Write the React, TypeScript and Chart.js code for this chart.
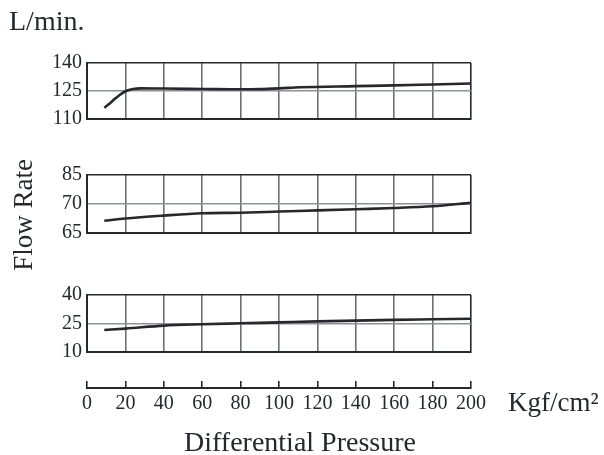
import React, { useEffect, useRef } from "react";
import { Chart, registerables } from "chart.js";

Chart.register(...registerables);

const FONT = "'Liberation Serif', 'Times New Roman', serif";
const INK = "#25282c";
const GRID_V = "#6e7174";
const GRID_H = "#8e9194";

// Differential pressure (Kgf/cm²)
const pressureTop = [9, 12, 15, 18, 21, 24, 28, 40, 60, 80, 90, 100, 111, 140, 160, 180, 200];
const flowTop = [116, 118.5, 121.2, 123.6, 125.3, 126.1, 126.4, 126.3, 126.1, 125.9, 126, 126.4, 127, 127.6, 128, 128.5, 129];

const pressureMid = [9, 20, 40, 60, 80, 100, 120, 140, 160, 180, 200];
const flowMid = [67.1, 67.5, 68, 68.4, 68.5, 68.7, 68.9, 69.1, 69.3, 69.6, 70.2];

const pressureBot = [9, 20, 40, 60, 80, 100, 120, 140, 160, 180, 200];
const flowBot = [21.6, 22.3, 23.9, 24.6, 25.1, 25.6, 26.1, 26.5, 26.9, 27.2, 27.5];

// tick labels (bottom to top)
const ticksTop = ["110", "125", "140"];
const ticksMid = ["65", "70", "85"];
const ticksBot = ["10", "25", "40"];
const xTickLabels = ["0", "20", "40", "60", "80", "100", "120", "140", "160", "180", "200"];

const W = 604;
const H = 455;
const LEFT = 87;
const RIGHT_PAD = 133;

type PanelDef = {
  xs: number[];
  ys: number[];
  min: number;
  max: number;
  step: number;
  labels: string[];
  top: number;
  bottom: number;
};

function panelConfig(p: PanelDef): any {
  return {
    type: "line",
    data: {
      datasets: [
        {
          data: p.xs.map((x, i) => ({ x, y: p.ys[i] })),
          borderColor: INK,
          borderWidth: 2.6,
          pointRadius: 0,
          cubicInterpolationMode: "monotone",
          fill: false,
        },
      ],
    },
    options: {
      responsive: false,
      animation: false,
      devicePixelRatio: 1,
      layout: { padding: { top: p.top, bottom: H - p.bottom, left: 0, right: RIGHT_PAD } },
      plugins: { legend: { display: false }, tooltip: { enabled: false } },
      scales: {
        x: {
          type: "linear",
          min: 0,
          max: 200,
          ticks: { display: false, stepSize: 20 },
          grid: {
            drawTicks: false,
            lineWidth: 1.6,
            color: (ctx: any) => (ctx.tick && (ctx.tick.value === 200 || ctx.tick.value === 0) ? INK : GRID_V),
          },
          border: { display: true, color: INK, width: 2 },
          afterFit: (s: any) => {
            s.height = 0;
          },
        },
        y: {
          type: "linear",
          min: p.min,
          max: p.max,
          ticks: {
            stepSize: p.step,
            padding: 5,
            color: INK,
            font: { family: FONT, size: 20 },
            callback: (_v: any, i: number) => p.labels[i],
          },
          grid: {
            drawTicks: false,
            lineWidth: 1.6,
            color: (ctx: any) => (ctx.tick && ctx.tick.value === p.max ? INK : GRID_H),
          },
          border: { display: true, color: INK, width: 2 },
          afterFit: (s: any) => {
            s.width = LEFT;
          },
        },
      },
    },
  };
}

const textPlugin = {
  id: "texts",
  afterDraw(chart: any) {
    const ctx = chart.ctx;
    ctx.save();
    ctx.fillStyle = INK;
    ctx.textBaseline = "alphabetic";
    ctx.font = `28px ${FONT}`;
    ctx.textAlign = "left";
    ctx.fillText("L/min.", 9, 30);
    ctx.textAlign = "center";
    ctx.fillText("Differential Pressure", 300, 451);
    ctx.font = `27px ${FONT}`;
    ctx.textAlign = "left";
    ctx.fillText("Kgf/cm²", 508, 411);
    ctx.translate(31.5, 215);
    ctx.rotate(-Math.PI / 2);
    ctx.textAlign = "center";
    ctx.fillText("Flow Rate", 0, 0);
    ctx.restore();
  },
};

function axisConfig(): any {
  return {
    type: "line",
    data: { datasets: [] },
    options: {
      responsive: false,
      animation: false,
      devicePixelRatio: 1,
      layout: { padding: { top: 381, bottom: 0, left: LEFT, right: RIGHT_PAD } },
      plugins: { legend: { display: false }, tooltip: { enabled: false } },
      scales: {
        x: {
          type: "linear",
          min: 0,
          max: 200,
          ticks: {
            stepSize: 20,
            padding: 4,
            maxRotation: 0,
            autoSkip: false,
            color: INK,
            font: { family: FONT, size: 20 },
            callback: (_v: any, i: number) => xTickLabels[i],
          },
          grid: { drawTicks: false, lineWidth: 1.6, color: INK },
          border: { display: true, color: INK, width: 2 },
          afterFit: (s: any) => {
            s.height = H - 388;
          },
        },
        y: { display: false, min: 0, max: 1 },
      },
    },
    plugins: [textPlugin],
  };
}

function ChartCanvas({ make }: { make: () => any }) {
  const ref = useRef<HTMLCanvasElement>(null);
  useEffect(() => {
    const c = new Chart(ref.current as HTMLCanvasElement, make());
    return () => c.destroy();
  }, []);
  return (
    <canvas
      ref={ref}
      width={W}
      height={H}
      style={{ position: "absolute", left: 0, top: 0, width: W, height: H }}
    />
  );
}

export default function App() {
  return (
    <div style={{ position: "absolute", left: 0, top: 0, width: W, height: H, background: "#fff" }}>
      <ChartCanvas
        make={() =>
          panelConfig({ xs: pressureTop, ys: flowTop, min: 110, max: 140, step: 15, labels: ticksTop, top: 63, bottom: 119 })
        }
      />
      <ChartCanvas
        make={() =>
          panelConfig({ xs: pressureMid, ys: flowMid, min: 65, max: 75, step: 5, labels: ticksMid, top: 175, bottom: 233 })
        }
      />
      <ChartCanvas
        make={() =>
          panelConfig({ xs: pressureBot, ys: flowBot, min: 10, max: 40, step: 15, labels: ticksBot, top: 295, bottom: 352 })
        }
      />
      <ChartCanvas make={axisConfig} />
    </div>
  );
}
